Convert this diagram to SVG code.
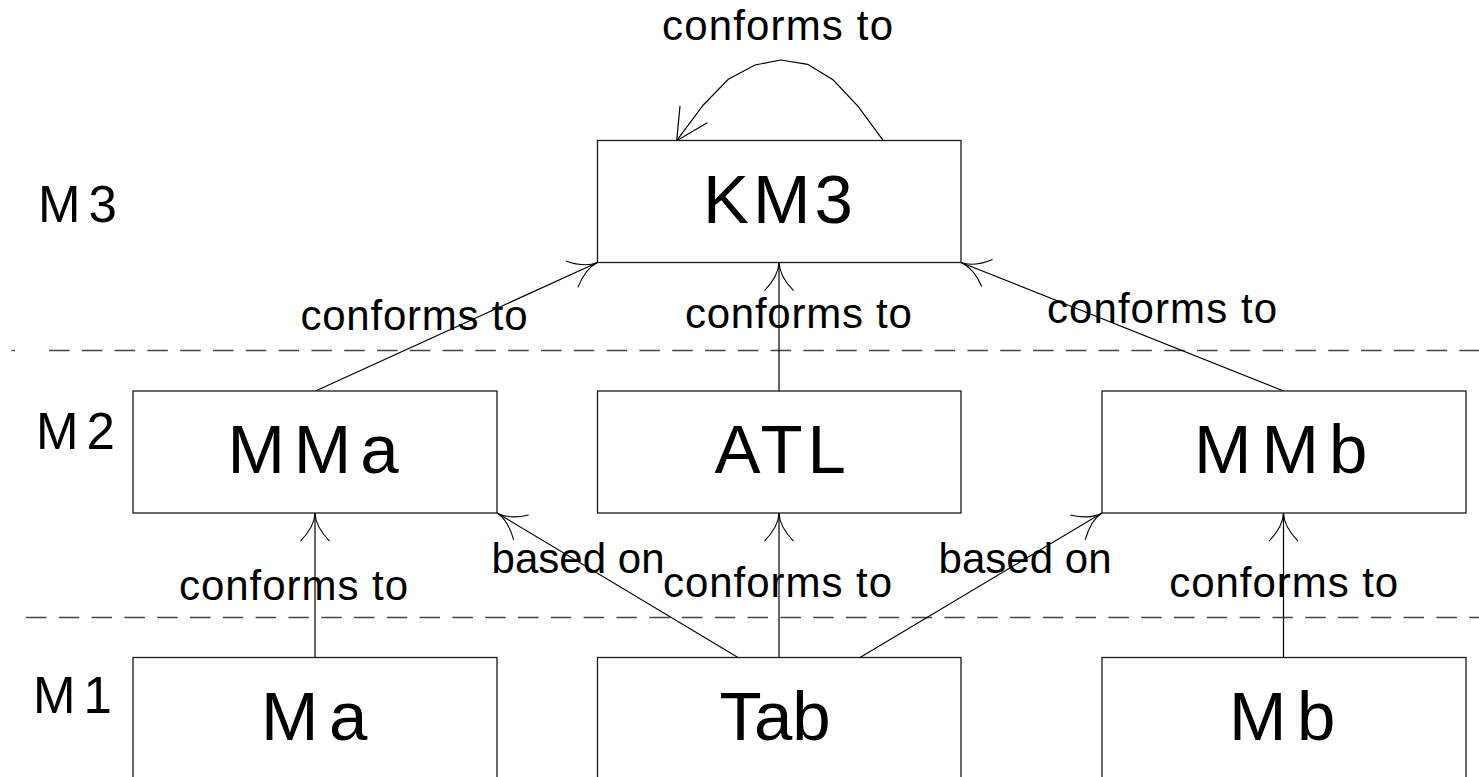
<svg xmlns="http://www.w3.org/2000/svg" width="1479" height="777" viewBox="0 0 1479 777">
  <style>
    .box { fill: #ffffff; stroke: #1a1a1a; stroke-width: 1.3; }
    .name { font-family: "Liberation Sans", Arial, sans-serif; font-size: 69px; fill: #000; }
    .level { font-family: "Liberation Sans", Arial, sans-serif; font-size: 51px; fill: #000; letter-spacing: 8px; }
    .lbl { font-family: "Liberation Sans", Arial, sans-serif; font-size: 42px; fill: #000; text-anchor: middle; }
    .edge { fill: none; stroke: #000; stroke-width: 1.2; }
    .sep { fill: none; stroke: #444; stroke-width: 1.4; stroke-dasharray: 20.5 12.3; }
  </style>
  <defs>
    <!-- open, curved arrowhead; tip at the line end -->
    <marker id="curvedHead" markerUnits="userSpaceOnUse" orient="auto" markerWidth="40" markerHeight="40" refX="0" refY="0" viewBox="-40 -20 44 40" overflow="visible">
      <path d="M -31 -16 Q -15 -0.5 0 0 Q -15 0.5 -31 16" fill="none" stroke="#000" stroke-width="1.2"/>
    </marker>
  </defs>

  <!-- level separators -->
  <g id="separators">
    <path class="sep" d="M 11.5 350.5 H 15" stroke-dasharray="none"/>
    <path class="sep" d="M 49 350.5 H 1479"/>
    <path class="sep" d="M 26 617.5 H 1479"/>
  </g>

  <!-- level labels -->
  <g id="levels">
    <text class="level" x="38" y="222">M3</text>
    <text class="level" x="36" y="448.5">M2</text>
    <text class="level" x="33" y="713">M1</text>
  </g>

  <!-- connectors -->
  <g id="connectors">
    <!-- KM3 conforms to itself -->
    <polyline class="edge" points="883.3,140.7 858.3,106.7 833.3,80 807.7,64.3 780.7,60 755,65 728.3,79.3 703.3,105 676.7,140.7"/>
    <polyline class="edge" points="680,106 676.7,140.7 707.3,122.7"/>
    <!-- M2 -> M3 -->
    <line class="edge" x1="315.5" y1="391" x2="597.5" y2="262.5" marker-end="url(#curvedHead)"/>
    <line class="edge" x1="779" y1="391" x2="779" y2="262.5" marker-end="url(#curvedHead)"/>
    <line class="edge" x1="1283.5" y1="391" x2="961" y2="262.5" marker-end="url(#curvedHead)"/>
    <!-- M1 -> M2 -->
    <line class="edge" x1="315" y1="657.5" x2="315" y2="513" marker-end="url(#curvedHead)"/>
    <line class="edge" x1="779" y1="657.5" x2="779" y2="513" marker-end="url(#curvedHead)"/>
    <line class="edge" x1="1283.5" y1="657.5" x2="1283.5" y2="513" marker-end="url(#curvedHead)"/>
    <line class="edge" x1="738" y1="657.5" x2="497" y2="513" marker-end="url(#curvedHead)"/>
    <line class="edge" x1="860" y1="657.5" x2="1102" y2="513" marker-end="url(#curvedHead)"/>
  </g>

  <!-- connector labels -->
  <g id="edge-labels">
    <text class="lbl" x="777.5" y="40" textLength="231" lengthAdjust="spacing">conforms to</text>
    <text class="lbl" x="414" y="330" textLength="227" lengthAdjust="spacing">conforms to</text>
    <text class="lbl" x="798.4" y="328.3" textLength="227" lengthAdjust="spacing">conforms to</text>
    <text class="lbl" x="1162" y="322.7" textLength="230" lengthAdjust="spacing">conforms to</text>
    <text class="lbl" x="293.5" y="600" textLength="229" lengthAdjust="spacing">conforms to</text>
    <text class="lbl" x="777.5" y="597" textLength="229" lengthAdjust="spacing">conforms to</text>
    <text class="lbl" x="1283.7" y="597" textLength="229" lengthAdjust="spacing">conforms to</text>
    <text class="lbl" x="578" y="572.7" textLength="173" lengthAdjust="spacing">based on</text>
    <text class="lbl" x="1025" y="572.7" textLength="173" lengthAdjust="spacing">based on</text>
  </g>

  <!-- M3 -->
  <g id="node-KM3">
    <rect class="box" x="597.5" y="140.5" width="363.5" height="122"/>
    <text class="name" x="703" y="222.7" letter-spacing="4">KM3</text>
  </g>

  <!-- M2 -->
  <g id="node-MMa">
    <rect class="box" x="133" y="391" width="364" height="122"/>
    <text class="name" x="227.6" y="472.7" letter-spacing="8.8">MMa</text>
  </g>
  <g id="node-ATL">
    <rect class="box" x="597.5" y="391" width="363.5" height="122"/>
    <text class="name" x="714.5" y="472.7" letter-spacing="5">ATL</text>
  </g>
  <g id="node-MMb">
    <rect class="box" x="1102" y="391" width="364" height="122"/>
    <text class="name" x="1194" y="472.7" letter-spacing="10">MMb</text>
  </g>

  <!-- M1 -->
  <g id="node-Ma">
    <rect class="box" x="133" y="657.5" width="364" height="122"/>
    <text class="name" x="261" y="740" letter-spacing="10.6">Ma</text>
  </g>
  <g id="node-Tab">
    <rect class="box" x="597.5" y="657.5" width="363.5" height="122"/>
    <text class="name" x="719.4" y="740">Tab</text>
  </g>
  <g id="node-Mb">
    <rect class="box" x="1102" y="657.5" width="364" height="122"/>
    <text class="name" x="1229" y="740" letter-spacing="10.6">Mb</text>
  </g>
</svg>
